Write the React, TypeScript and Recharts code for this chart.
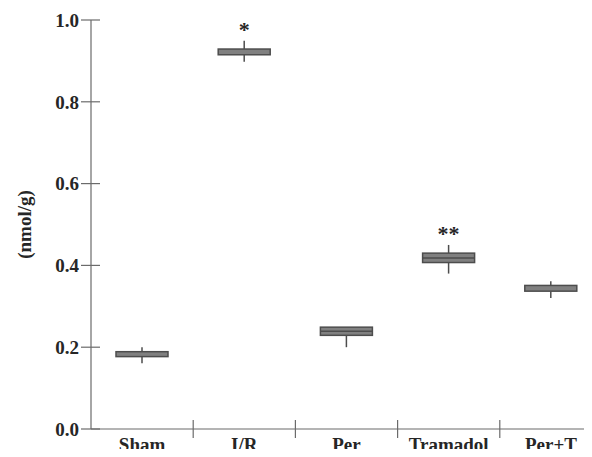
import React from "react";
import {
  ComposedChart,
  Bar,
  XAxis,
  YAxis,
  LabelList,
} from "recharts";

const categorias = ["Sham", "I/R", "Per", "Tramadol", "Per+T"];
const minimos = [0.161, 0.898, 0.2, 0.38, 0.32];
const quartil1 = [0.177, 0.915, 0.229, 0.407, 0.337];
const medianas = [0.177, 0.915, 0.239, 0.418, 0.337];
const quartil3 = [0.189, 0.929, 0.249, 0.43, 0.351];
const maximos = [0.2, 0.949, 0.249, 0.45, 0.361];
const significancia = ["", "*", "", "**", ""];
const ticksY = [0, 0.2, 0.4, 0.6, 0.8, 1.0];

const dados = categorias.map((nome, i) => ({
  nome,
  q1: quartil1[i],
  mediana: medianas[i],
  q3: quartil3[i],
  base: minimos[i],
  bigodeBaixo: quartil1[i] - minimos[i],
  caixa: quartil3[i] - quartil1[i],
  bigodeAlto: maximos[i] - quartil3[i],
  sig: significancia[i],
}));

const FONTE = "'Liberation Serif', 'Times New Roman', serif";
const COR_EIXO = "#6b6b6b";
const COR_TEXTO = "#262626";
const COR_BORDA = "#4d4d4d";
const COR_CAIXA = "#808080";

const TICK_SIZE = 6;
const TICK_MARGIN = 4;

function Bigode(props: any) {
  const { x, y, width, height } = props;
  if (!height || height <= 0) return null;
  const cx = x + width / 2;
  return <line x1={cx} x2={cx} y1={y} y2={y + height} stroke={COR_BORDA} strokeWidth={1.5} />;
}

function Caixa(props: any) {
  const { x, y, width, height, payload } = props;
  const { q1, q3, mediana } = payload;
  const temMediana = mediana > q1 && mediana < q3;
  const my = y + ((q3 - mediana) / (q3 - q1)) * height;
  return (
    <g>
      <rect x={x} y={y} width={width} height={height} fill={COR_CAIXA} stroke={COR_BORDA} strokeWidth={1.5} />
      {temMediana && <line x1={x} x2={x + width} y1={my} y2={my} stroke={COR_BORDA} strokeWidth={1.5} />}
    </g>
  );
}

function TickY(props: any) {
  const { x, y, payload } = props;
  const eixoX = x + TICK_SIZE + TICK_MARGIN;
  return (
    <g>
      <line x1={eixoX - 10} x2={eixoX + 9} y1={y} y2={y} stroke={COR_EIXO} strokeWidth={1.2} />
      <text
        x={eixoX - 12}
        y={y}
        dy="0.36em"
        textAnchor="end"
        fontFamily={FONTE}
        fontWeight="bold"
        fontSize={19}
        fill={COR_TEXTO}
      >
        {Number(payload.value).toFixed(1)}
      </text>
    </g>
  );
}

function TickX(props: any) {
  const { x, y, payload, index } = props;
  const eixoY = y - TICK_SIZE - TICK_MARGIN;
  const meio = payload.offset || 51;
  return (
    <g>
      {index > 0 && (
        <line x1={x - meio} x2={x - meio} y1={eixoY - 9} y2={eixoY + 9} stroke={COR_EIXO} strokeWidth={1.2} />
      )}
      <text
        x={x}
        y={eixoY + 22}
        textAnchor="middle"
        fontFamily={FONTE}
        fontWeight="bold"
        fontSize={19}
        fill={COR_TEXTO}
      >
        {payload.value}
      </text>
    </g>
  );
}

export default function App() {
  return (
    <div style={{ margin: -8, width: 592, height: 457, overflow: "hidden", background: "#fff" }}>
      <ComposedChart
        width={608}
        height={470}
        data={dados}
        margin={{ top: 20, right: 6, left: 0, bottom: 1 }}
        barSize={52}
      >
        <XAxis
          dataKey="nome"
          height={40}
          axisLine={{ stroke: COR_EIXO, strokeWidth: 1.2 }}
          tickLine={false}
          tickSize={TICK_SIZE}
          tickMargin={TICK_MARGIN}
          tick={<TickX />}
          interval={0}
        />
        <YAxis
          width={91}
          domain={[0, 1]}
          ticks={ticksY}
          axisLine={{ stroke: COR_EIXO, strokeWidth: 1.2 }}
          tickLine={false}
          tickSize={TICK_SIZE}
          tickMargin={TICK_MARGIN}
          tick={<TickY />}
          label={{
            value: "(nmol/g)",
            angle: -90,
            position: "insideLeft",
            offset: 24,
            style: {
              fontFamily: FONTE,
              fontWeight: "bold",
              fontSize: 19,
              fill: COR_TEXTO,
              textAnchor: "middle",
            },
          }}
        />
        <Bar dataKey="base" stackId="b" fill="none" isAnimationActive={false} />
        <Bar dataKey="bigodeBaixo" stackId="b" shape={<Bigode />} isAnimationActive={false} />
        <Bar dataKey="caixa" stackId="b" shape={<Caixa />} isAnimationActive={false} />
        <Bar dataKey="bigodeAlto" stackId="b" shape={<Bigode />} isAnimationActive={false}>
          <LabelList
            dataKey="sig"
            position="top"
            offset={4}
            style={{ fontFamily: FONTE, fontWeight: "bold", fontSize: 22, fill: COR_TEXTO }}
          />
        </Bar>
      </ComposedChart>
    </div>
  );
}
